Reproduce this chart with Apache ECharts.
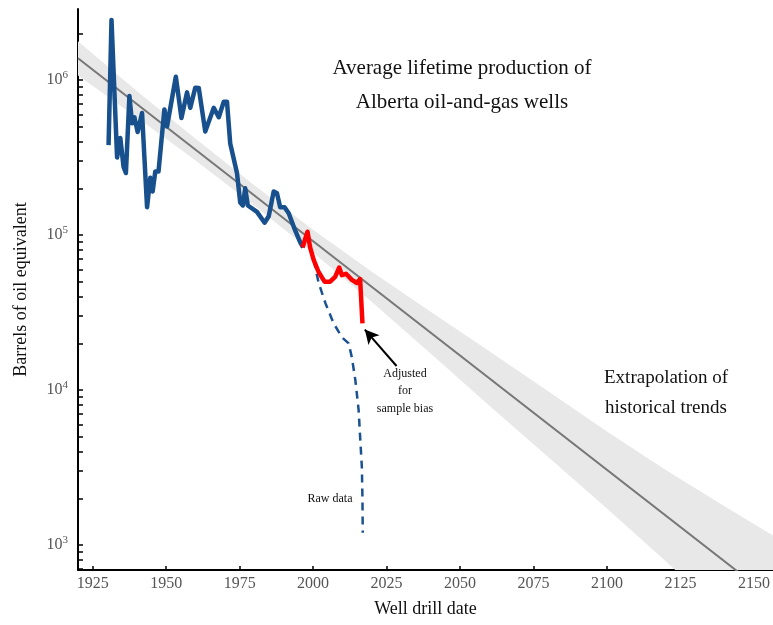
<!DOCTYPE html>
<html>
<head>
<meta charset="utf-8">
<script src="https://cdn.jsdelivr.net/npm/echarts@6/dist/echarts.min.js"></script>
<style>
  html, body { margin: 0; padding: 0; background: #fff; }
  #chart { width: 773px; height: 625px; }
</style>
</head>
<body>
<div id="chart"></div>
<script>
  // historical average (barrels of oil equivalent)
  const histYears = [1930.4, 1931.4, 1933.3, 1934.4, 1935.5, 1936.3, 1937.5, 1938.4, 1939.2, 1940.3,
    1941.8, 1943.5, 1944.6, 1945.4, 1946.3, 1947.4, 1949.4, 1950.3, 1953.3, 1955.2,
    1957.1, 1958.2, 1959.9, 1961.1, 1963.3, 1966.2, 1967.9, 1969.6, 1970.7, 1971.8,
    1974.1, 1975.2, 1976.1, 1976.9, 1977.8, 1980.9, 1983.5, 1984.9, 1986.6, 1987.7,
    1988.8, 1990.3, 1991.7, 1993.9, 1995.6, 1996.6];
  const histValues = [3.8e5, 2.44e6, 3.16e5, 4.23e5, 2.75e5, 2.51e5, 7.89e5, 5.25e5, 5.75e5, 4.62e5,
    6.12e5, 1.51e5, 2.34e5, 1.91e5, 2.57e5, 2.57e5, 6.46e5, 5.01e5, 1.05e6, 5.69e5,
    8.32e5, 6.61e5, 8.91e5, 8.87e5, 4.65e5, 6.61e5, 5.75e5, 7.24e5, 7.24e5, 3.89e5,
    2.51e5, 1.62e5, 1.55e5, 2.0e5, 1.55e5, 1.41e5, 1.2e5, 1.32e5, 1.91e5, 1.86e5,
    1.51e5, 1.51e5, 1.38e5, 1.07e5, 9.0e4, 8.3e4];

  // adjusted for sample bias
  const adjYears = [1996.4, 1998.1, 1999.0, 2000.2, 2001.9, 2003.9, 2005.8, 2007.5, 2008.9, 2009.8,
    2011.2, 2013.2, 2014.9, 2016.0, 2016.8];
  const adjValues = [8.3e4, 1.05e5, 8.3e4, 6.9e4, 5.75e4, 5.0e4, 5.0e4, 5.37e4, 6.17e4, 5.5e4,
    5.62e4, 5.13e4, 4.9e4, 5.2e4, 2.69e4];

  // raw data
  const rawYears = [2000.2, 2001.9, 2004.2, 2007.0, 2009.8, 2012.1, 2013.2, 2014.4, 2015.5, 2016.0,
    2016.6, 2016.8, 2016.9];
  const rawValues = [6.9e4, 4.9e4, 3.63e4, 2.69e4, 2.19e4, 2.0e4, 1.62e4, 1.15e4, 7.4e3, 5.0e3,
    3.16e3, 1.95e3, 1.2e3];

  // fitted trend and its band
  const trendYears = [1920, 2160];
  const trendValues = [1.38e6, 398];
  const bandYears = [1920, 1940, 1960, 1980, 2000, 2020, 2040, 2060, 2080, 2100, 2120, 2140, 2160];
  const bandUpper = [1.78e6, 8.5e5, 4.17e5, 2.09e5, 1.08e5, 5.8e4, 3.2e4, 1.78e4, 9.8e3, 5.4e3, 3.05e3, 1.78e3, 1.05e3];
  const bandLower = [1.07e6, 5.75e5, 3.02e5, 1.55e5, 7.7e4, 3.7e4, 1.72e4, 7.9e3, 3.7e3, 1.72e3, 785, 355, 158];

  const xTickLabels = [1925, 1950, 1975, 2000, 2025, 2050, 2075, 2100, 2125, 2150];
  const yTickLabels = [1e3, 1e4, 1e5, 1e6];

  const xMin = 1920, xMax = 2156.5;
  const yMin = 690, yMax = 2.87e6;

  const lg = Math.log10;
  const pairs = (xs, ys) => xs.map((x, i) => [x, lg(ys[i])]);

  // minor ticks at 2..9 of each decade
  const yTicks = [];
  for (let e = 2; e <= 6; e++) {
    for (let k = 1; k <= 9; k++) {
      const v = k * Math.pow(10, e);
      if (v >= yMin && v <= yMax) yTicks.push(lg(v));
    }
  }

  const serif = 'Liberation Serif';
  const chart = echarts.init(document.getElementById('chart'));

  chart.setOption({
    animation: false,
    grid: { left: 78, right: 0, top: 9, bottom: 55 },
    xAxis: {
      type: 'value',
      min: xMin,
      max: xMax,
      name: 'Well drill date',
      nameLocation: 'middle',
      nameGap: 30,
      nameTextStyle: { fontFamily: serif, fontSize: 18, color: '#111' },
      axisLine: { lineStyle: { color: '#000', width: 2 } },
      axisTick: { inside: true, length: 4, customValues: xTickLabels, lineStyle: { color: '#000', width: 1.5 } },
      axisLabel: { customValues: xTickLabels, margin: 6, formatter: v => String(v), fontFamily: serif, fontSize: 16, color: '#555' },
      splitLine: { show: false }
    },
    yAxis: {
      type: 'value',
      min: lg(yMin),
      max: lg(yMax),
      name: 'Barrels of oil equivalent',
      nameLocation: 'middle',
      nameGap: 48,
      nameTextStyle: { fontFamily: serif, fontSize: 18, color: '#111' },
      axisLine: { lineStyle: { color: '#000', width: 2 } },
      axisTick: { inside: true, length: 5, customValues: yTicks, lineStyle: { color: '#000', width: 1.5 } },
      axisLabel: {
        customValues: yTickLabels.map(lg),
        margin: 10,
        formatter: v => '{b|10}{s|' + Math.round(v) + '}',
        rich: {
          b: { fontFamily: serif, fontSize: 16, color: '#555' },
          s: { fontFamily: serif, fontSize: 11, color: '#555', padding: [0, 0, 9, 0] }
        }
      },
      splitLine: { show: false }
    },
    series: [
      {
        // confidence band drawn as one polygon: upper edge then lower edge back
        name: 'band',
        type: 'custom',
        clip: true,
        silent: true,
        data: [0],
        renderItem: (params, api) => {
          const up = bandYears.map((x, i) => api.coord([x, lg(bandUpper[i])]));
          const lo = bandYears.map((x, i) => api.coord([x, lg(bandLower[i])])).reverse();
          return {
            type: 'polygon',
            shape: { points: up.concat(lo) },
            style: { fill: '#e8e8e8' }
          };
        }
      },
      {
        name: 'Extrapolation of historical trends',
        type: 'line',
        data: pairs(trendYears, trendValues),
        symbol: 'none',
        lineStyle: { color: '#777', width: 2 }
      },
      {
        name: 'Raw data',
        type: 'line',
        data: pairs(rawYears, rawValues),
        symbol: 'none',
        lineStyle: { color: '#1a5190', width: 2.5, type: [8, 6] }
      },
      {
        name: 'Historical',
        type: 'line',
        data: pairs(histYears, histValues),
        symbol: 'none',
        lineStyle: { color: '#17508c', width: 4.5, join: 'round' }
      },
      {
        name: 'Adjusted for sample bias',
        type: 'line',
        data: pairs(adjYears, adjValues),
        symbol: 'none',
        lineStyle: { color: '#ff0000', width: 4.5, join: 'round' },
        markLine: {
          silent: true,
          symbol: ['none', 'arrow'],
          symbolSize: [11, 14],
          label: { show: false },
          lineStyle: { color: '#000', width: 2, type: 'solid' },
          data: [[
            { coord: [2028.4, 4.155] },
            { coord: [2017.6, 4.39] }
          ]]
        }
      }
    ],
    graphic: [
      { type: 'text', x: 462, y: 51, style: { text: 'Average lifetime production of\nAlberta oil-and-gas wells', font: '21px "Liberation Serif"', fill: '#111', textAlign: 'center', textVerticalAlign: 'top', lineHeight: 34 } },
      { type: 'text', x: 666, y: 363, style: { text: 'Extrapolation of\nhistorical trends', font: '19px "Liberation Serif"', fill: '#111', textAlign: 'center', textVerticalAlign: 'top', lineHeight: 30 } },
      { type: 'text', x: 405, y: 365, style: { text: 'Adjusted\nfor\nsample bias', font: '12px "Liberation Serif"', fill: '#111', textAlign: 'center', textVerticalAlign: 'top', lineHeight: 17.5 } },
      { type: 'text', x: 330, y: 493, style: { text: 'Raw data', font: '12px "Liberation Serif"', fill: '#111', textAlign: 'center', textVerticalAlign: 'top' } }
    ]
  });
</script>
</body>
</html>
